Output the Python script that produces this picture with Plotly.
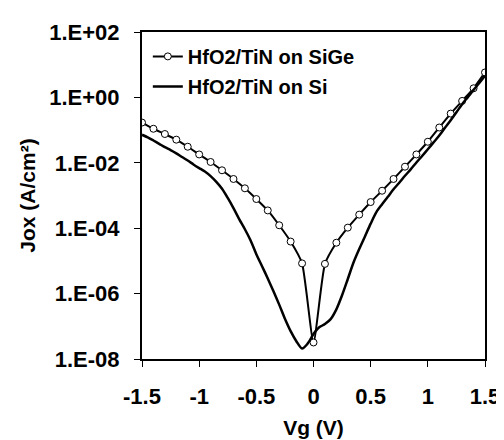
import plotly.graph_objects as go

# SiGe (markers every 0.1 V)
vg_sige = [-1.5, -1.4, -1.3, -1.2, -1.1, -1.0, -0.9, -0.8, -0.7, -0.6, -0.5, -0.4, -0.3, -0.2, -0.1,
           0.0, 0.1, 0.2, 0.3, 0.4, 0.5, 0.6, 0.7, 0.8, 0.9, 1.0, 1.1, 1.2, 1.3, 1.4, 1.5]
jox_sige = [1.7e-1, 1.1e-1, 7.6e-2, 5.1e-2, 3.1e-2, 1.8e-2, 1.06e-2, 5.9e-3, 3.2e-3, 1.66e-3, 7.8e-4,
            3.5e-4, 1.23e-4, 3.9e-5, 8.4e-6, 3.2e-8, 8.1e-6, 3.6e-5, 1.04e-4, 2.6e-4, 6.3e-4, 1.4e-3,
            3.2e-3, 7.6e-3, 1.8e-2, 4.4e-2, 1.2e-1, 3.2e-1, 7.8e-1, 1.9, 5.8]

# Si (solid line, 0.05 V steps)
vg_si = [-1.50, -1.45, -1.40, -1.35, -1.30, -1.25, -1.20, -1.15, -1.10, -1.05, -1.00, -0.95, -0.90,
         -0.85, -0.80, -0.75, -0.70, -0.65, -0.60, -0.55, -0.50, -0.45, -0.40, -0.35, -0.30, -0.25,
         -0.20, -0.15, -0.10, -0.05, 0.00, 0.05, 0.10, 0.15, 0.20, 0.25, 0.30, 0.35, 0.40, 0.45,
         0.50, 0.55, 0.60, 0.65, 0.70, 0.75, 0.80, 0.85, 0.90, 0.95, 1.00, 1.05, 1.10, 1.15, 1.20,
         1.25, 1.30, 1.35, 1.40, 1.45, 1.50]
jox_si = [7.2e-2, 6.0e-2, 4.8e-2, 3.8e-2, 3.0e-2, 2.45e-2, 1.95e-2, 1.5e-2, 1.17e-2, 8.9e-3, 6.9e-3,
          5.4e-3, 3.9e-3, 2.6e-3, 1.6e-3, 8.4e-4, 4.1e-4, 1.9e-4, 9.3e-5, 4.2e-5, 1.6e-5, 6.9e-6,
          2.9e-6, 1.17e-6, 4.6e-7, 1.7e-7, 7.1e-8, 3.5e-8, 2.1e-8, 3.0e-8, 5.8e-8, 9.3e-8, 1.17e-7,
          1.66e-7, 3.3e-7, 8.9e-7, 2.8e-6, 8.9e-6, 2.3e-5, 5.6e-5, 1.38e-4, 3.1e-4, 5.4e-4, 9.1e-4,
          1.55e-3, 2.45e-3, 4.0e-3, 6.3e-3, 1.02e-2, 1.62e-2, 2.6e-2, 4.2e-2, 6.8e-2, 1.17e-1, 2.0e-1,
          3.5e-1, 6.2e-1, 1.02, 1.7, 2.75, 4.6]

x_tickvals = [-1.5, -1.0, -0.5, 0.0, 0.5, 1.0, 1.5]
x_ticktext = ["-1.5", "-1", "-0.5", "0", "0.5", "1", "1.5"]
y_tickvals = [1e2, 1e0, 1e-2, 1e-4, 1e-6, 1e-8]
y_ticktext = ["1.E+02", "1.E+00", "1.E-02", "1.E-04", "1.E-06", "1.E-08"]

FONT = "Liberation Sans, Arial, sans-serif"

fig = go.Figure()
fig.add_trace(go.Scatter(
    x=vg_sige, y=jox_sige, name="HfO2/TiN on SiGe", mode="lines+markers",
    line=dict(color="black", width=2, shape="spline", smoothing=0.5),
    marker=dict(symbol="circle", size=7, color="white", line=dict(color="black", width=1)),
    legendgroup="a",
))
fig.add_trace(go.Scatter(
    x=vg_si, y=jox_si, name="HfO2/TiN on Si", mode="lines",
    line=dict(color="black", width=2.5, shape="spline", smoothing=0.8),
    legendgroup="b",
))

fig.update_layout(
    width=504, height=440,
    margin=dict(l=134, r=20, t=14, b=83),
    paper_bgcolor="white", plot_bgcolor="white",
    font=dict(family=FONT, size=20, color="black", weight="bold"),
    showlegend=True,
    legend=dict(x=0.017, y=0.985, xanchor="left", yanchor="top", bgcolor="rgba(0,0,0,0)",
                font=dict(size=20, weight="bold"), tracegroupgap=1, traceorder="grouped"),
)
fig.update_xaxes(
    range=[-1.5, 1.5], tickvals=x_tickvals, ticktext=x_ticktext,
    showgrid=False, zeroline=False, showline=True, linecolor="black", linewidth=2, mirror=True,
    ticks="outside", ticklen=6, tickwidth=1, tickcolor="black", ticklabelstandoff=11,
    title=dict(text="Vg (V)", standoff=12, font=dict(size=21, weight="bold")),
    tickfont=dict(size=22, weight="bold"),
)
fig.update_yaxes(
    type="log", range=[-8, 2], tickvals=y_tickvals, ticktext=y_ticktext,
    showgrid=False, zeroline=False, showline=True, linecolor="black", linewidth=2, mirror=True,
    ticks="outside", ticklen=6, tickwidth=1, tickcolor="black", ticklabelstandoff=10,
    title=dict(text="Jox (A/cm²)", standoff=8, font=dict(size=21, weight="bold")),
    tickfont=dict(size=22, weight="bold"),
)

fig.write_html("out.html")
